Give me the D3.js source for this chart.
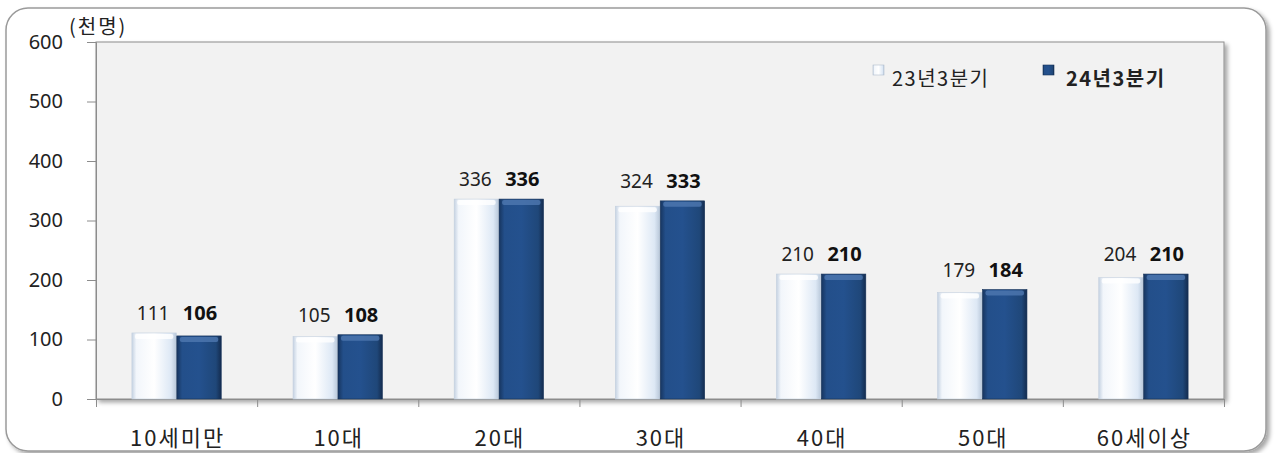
<!DOCTYPE html>
<html>
<head>
<meta charset="utf-8">
<script src="https://cdn.jsdelivr.net/npm/d3@7"></script>
<style>
  body { margin: 0; background: #fff; }
  svg { display: block; font-family: "Noto Sans CJK KR", "Noto Sans", sans-serif; }
</style>
</head>
<body>
<div id="chart"></div>
<script>
var categories = ["10세미만", "10대", "20대", "30대", "40대", "50대", "60세이상"];
var series = ["23년3분기", "24년3분기"];
var values23 = [111, 105, 336, 324, 210, 179, 204];
var values24 = [106, 108, 336, 333, 210, 184, 210];
var yTicks = [0, 100, 200, 300, 400, 500, 600];

var width = 1275, height = 453;
var plot = {left: 96, right: 1224, top: 42, bottom: 399};

var svg = d3.select("#chart").append("svg")
    .attr("width", width)
    .attr("height", height);

var defs = svg.append("defs");

// light bar gradient
var gl = defs.append("linearGradient").attr("id", "gLight");
gl.append("stop").attr("offset", "0%").attr("stop-color", "#c5d2e2");
gl.append("stop").attr("offset", "10%").attr("stop-color", "#f2f6fb");
gl.append("stop").attr("offset", "50%").attr("stop-color", "#ffffff");
gl.append("stop").attr("offset", "88%").attr("stop-color", "#dde8f5");
gl.append("stop").attr("offset", "100%").attr("stop-color", "#b9c8da");

var gd = defs.append("linearGradient").attr("id", "gDark");
gd.append("stop").attr("offset", "0%").attr("stop-color", "#17355f");
gd.append("stop").attr("offset", "12%").attr("stop-color", "#234f8a");
gd.append("stop").attr("offset", "50%").attr("stop-color", "#24518e");
gd.append("stop").attr("offset", "88%").attr("stop-color", "#1f4779");
gd.append("stop").attr("offset", "100%").attr("stop-color", "#142c4f");

var shadow = defs.append("filter").attr("id", "shadow")
    .attr("x", "-5%").attr("y", "-5%").attr("width", "110%").attr("height", "115%");
shadow.append("feDropShadow").attr("dx", 3).attr("dy", 3).attr("stdDeviation", 2)
    .attr("flood-color", "#000").attr("flood-opacity", 0.35);

// outer frame
svg.append("rect")
    .attr("x", 6).attr("y", 8)
    .attr("width", 1260).attr("height", 443)
    .attr("rx", 22).attr("ry", 22)
    .attr("fill", "#fff")
    .attr("stroke", "#9a9a9a")
    .attr("stroke-width", 1.5)
    .attr("filter", "url(#shadow)");

// plot area
svg.append("rect")
    .attr("x", plot.left).attr("y", plot.top)
    .attr("width", plot.right - plot.left).attr("height", plot.bottom - plot.top)
    .attr("fill", "#f2f2f2")
    .attr("stroke", "#8c8c8c")
    .attr("stroke-width", 1)
    .attr("filter", "url(#shadow)");

var x = d3.scaleBand()
    .domain(categories)
    .range([plot.left, plot.right])
    .paddingInner(0.44)
    .paddingOuter(0.22);

var xInner = d3.scaleBand()
    .domain(series)
    .range([0, x.bandwidth()])
    .padding(0.01);

var y = d3.scaleLinear()
    .domain([0, 600])
    .range([plot.bottom, plot.top]);

// y axis
var yAxis = svg.append("g")
    .attr("transform", "translate(" + plot.left + ",0)")
    .call(d3.axisLeft(y).tickValues(yTicks).tickSize(9).tickPadding(24));
yAxis.select(".domain").attr("stroke", "#8c8c8c");
yAxis.selectAll(".tick line").attr("stroke", "#8c8c8c");
yAxis.selectAll(".tick text")
    .attr("font-size", 20)
    .attr("fill", "#222")
    .attr("dy", "0.3em")
    .attr("font-family", "\"Noto Sans\", sans-serif");

// x axis
var xEdges = d3.scaleLinear().domain([0, categories.length]).range([plot.left, plot.right]);
var xAxis = svg.append("g")
    .attr("transform", "translate(0," + plot.bottom + ")")
    .call(d3.axisBottom(xEdges).ticks(categories.length).tickSize(8).tickFormat(""));
xAxis.select(".domain").attr("stroke", "#8c8c8c");
xAxis.selectAll(".tick line").attr("stroke", "#8c8c8c");

svg.append("g").selectAll("text")
    .data(categories)
    .enter().append("text")
    .attr("x", function (d) { return x(d) + x.bandwidth() / 2 + 1; })
    .attr("y", 446)
    .attr("text-anchor", "middle")
    .attr("font-size", 22)
    .attr("letter-spacing", 2)
    .attr("fill", "#222")
    .text(function (d) { return d; });

// unit label
svg.append("text")
    .attr("x", 69).attr("y", 34)
    .attr("font-size", 20)
    .attr("letter-spacing", 2)
    .attr("fill", "#222")
    .text("(천명)");

// bars
var rows = categories.map(function (c, i) {
    return {cat: c, vals: [values23[i], values24[i]]};
});

var groups = svg.append("g").selectAll("g")
    .data(rows)
    .enter().append("g")
    .attr("transform", function (d) { return "translate(" + x(d.cat) + ",0)"; });

groups.selectAll("rect.bar")
    .data(function (d) { return d.vals.map(function (v, j) { return {s: series[j], v: v, j: j}; }); })
    .enter().append("rect")
    .attr("class", "bar")
    .attr("x", function (d) { return xInner(d.s); })
    .attr("y", function (d) { return y(d.v); })
    .attr("width", xInner.bandwidth())
    .attr("height", function (d) { return plot.bottom - y(d.v); })
    .attr("fill", function (d) { return d.j === 0 ? "url(#gLight)" : "url(#gDark)"; })
    .attr("stroke", function (d) { return d.j === 0 ? "#c4d0de" : "#173259"; })
    .attr("stroke-width", 0.6);

// top bevel highlight
groups.selectAll("rect.bevel")
    .data(function (d) { return d.vals.map(function (v, j) { return {s: series[j], v: v, j: j}; }); })
    .enter().append("rect")
    .attr("class", "bevel")
    .attr("x", function (d) { return xInner(d.s) + 3; })
    .attr("y", function (d) { return y(d.v) + 1; })
    .attr("width", xInner.bandwidth() - 6)
    .attr("height", 5)
    .attr("rx", 2)
    .attr("fill", function (d) { return d.j === 0 ? "#ffffff" : "#4f78b0"; })
    .attr("opacity", 0.8);

// value labels, placed at the level of the taller bar in each pair
groups.selectAll("text.val")
    .data(function (d) {
        var top = d3.max(d.vals);
        return d.vals.map(function (v, j) { return {s: series[j], v: v, j: j, top: top}; });
    })
    .enter().append("text")
    .attr("class", "val")
    .attr("x", function (d) { return xInner(d.s) + xInner.bandwidth() / 2 + (d.j === 0 ? -1 : 1); })
    .attr("y", function (d) { return y(d.top) - 13; })
    .attr("text-anchor", "middle")
    .attr("font-size", function (d) { return d.j === 0 ? 19 : 20; })
    .attr("font-weight", function (d) { return d.j === 0 ? "normal" : "bold"; })
    .attr("fill", function (d) { return d.j === 0 ? "#222" : "#111"; })
    .attr("font-family", "\"Noto Sans\", sans-serif")
    .text(function (d) { return d.v; });

// legend
var legendX = [873, 1043];
var legend = svg.append("g").selectAll("g")
    .data(series)
    .enter().append("g")
    .attr("transform", function (d, i) { return "translate(" + legendX[i] + ",65)"; });

legend.append("rect")
    .attr("width", 11).attr("height", 10)
    .attr("fill", function (d, i) { return i === 0 ? "url(#gLight)" : "url(#gDark)"; })
    .attr("stroke", function (d, i) { return i === 0 ? "#b0bccb" : "#173259"; })
    .attr("stroke-width", 0.6);

legend.append("text")
    .attr("x", function (d, i) { return i === 0 ? 19 : 23; })
    .attr("y", 21)
    .attr("font-size", 20)
    .attr("letter-spacing", 1.5)
    .attr("font-weight", function (d, i) { return i === 0 ? "normal" : "bold"; })
    .attr("fill", "#222")
    .text(function (d) { return d; });
</script>
</body>
</html>
